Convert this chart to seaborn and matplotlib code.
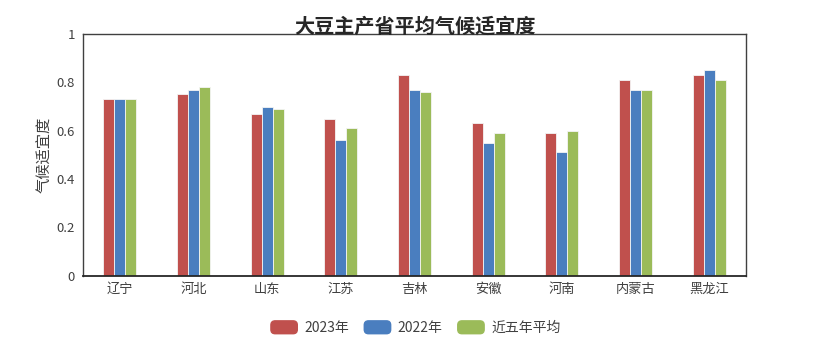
import matplotlib
matplotlib.use("Agg")
import matplotlib.pyplot as plt
import seaborn as sns
import pandas as pd
from matplotlib.patches import FancyBboxPatch, Patch
from matplotlib.legend_handler import HandlerPatch

provinces = ["辽宁", "河北", "山东", "江苏", "吉林", "安徽", "河南", "内蒙古", "黑龙江"]
series_names = ["2023年", "2022年", "近五年平均"]
v2023 = [0.73, 0.75, 0.67, 0.65, 0.83, 0.63, 0.59, 0.81, 0.83]
v2022 = [0.73, 0.77, 0.70, 0.56, 0.77, 0.55, 0.51, 0.77, 0.85]
vavg = [0.73, 0.78, 0.69, 0.61, 0.76, 0.59, 0.60, 0.77, 0.81]
yticks = [0, 0.2, 0.4, 0.6, 0.8, 1]
ytick_labels = ["0", "0.2", "0.4", "0.6", "0.8", "1"]
colors = ["#C0504D", "#4A7EBF", "#9BBB59"]

sns.set_theme(style="white")
plt.rcParams["font.family"] = ["Noto Sans CJK SC", "DejaVu Sans"]

rows = []
for name, vals in zip(series_names, [v2023, v2022, vavg]):
    for p, v in zip(provinces, vals):
        rows.append({"省份": p, "系列": name, "值": v})
df = pd.DataFrame(rows)

fig = plt.figure(figsize=(8.3, 3.43), dpi=100)
ax = fig.add_axes([0.1, 0.196, 0.7988, 0.705])
sns.barplot(data=df, x="省份", y="值", hue="系列", order=provinces,
            hue_order=series_names, palette=colors, width=0.45, saturation=1,
            edgecolor="#f4f4f4", linewidth=0.6, ax=ax, legend=False)

ax.set_xlim(-0.5, len(provinces) - 0.5)
ax.set_ylim(0, 1)
ax.set_yticks(yticks)
ax.set_yticklabels(ytick_labels)
ax.tick_params(axis="y", direction="in", length=5, width=0.8, colors="#404040",
               labelsize=9.5, pad=6, labelcolor="#404040")
ax.tick_params(axis="x", length=0, labelsize=9.5, labelcolor="#404040", pad=5)
for s in ax.spines.values():
    s.set_visible(True)
    s.set_color("#404040")
    s.set_linewidth(1.0)
ax.spines["bottom"].set_color("#262626")
ax.spines["bottom"].set_linewidth(1.3)
ax.set_xlabel("")
ax.set_ylabel("气候适宜度", fontsize=11, color="#404040", labelpad=2)

fig.text(0.5, 0.893, "大豆主产省平均气候适宜度", ha="center", va="bottom",
         fontsize=14.5, fontweight="bold", color="#262626")


class RoundHandler(HandlerPatch):
    def create_artists(self, legend, orig_handle, xdescent, ydescent, width,
                       height, fontsize, trans):
        p = FancyBboxPatch((-xdescent + 1, -ydescent + 0.5), width - 2, height - 1,
                           boxstyle="round,pad=0,rounding_size=3",
                           facecolor=orig_handle.get_facecolor(),
                           edgecolor=orig_handle.get_facecolor(), transform=trans)
        return [p]


handles = [Patch(facecolor=c, edgecolor=c, label=n) for c, n in zip(colors, series_names)]
fig.legend(handles=handles, loc="center", bbox_to_anchor=(0.5, 0.045), ncol=3,
           frameon=False, fontsize=10, handlelength=2.1, handleheight=1.2,
           columnspacing=1.0, handletextpad=0.4, labelcolor="#404040",
           handler_map={Patch: RoundHandler()})

fig.savefig("out.png", dpi=100)
